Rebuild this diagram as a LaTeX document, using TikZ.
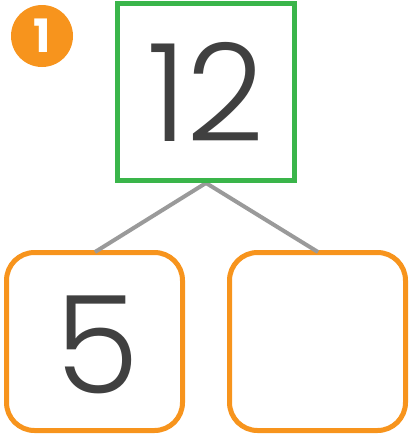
\documentclass[tikz,border=0pt]{standalone}
\usepackage{fontspec}
\setmainfont{Poppins}
\newfontfamily\digfont{Poppins Light}
\definecolor{bgreen}{HTML}{3AB54A}
\definecolor{borange}{HTML}{F7941D}
\definecolor{lgray}{HTML}{9A9A9A}
\definecolor{dgray}{HTML}{404040}
\tikzset{
  wholebox/.style={draw=bgreen, line width=5pt, minimum width=177pt, minimum height=177pt, inner sep=0pt},
  partbox/.style={draw=borange, line width=5pt, rounded corners=28pt, minimum width=176pt, minimum height=178pt, inner sep=0pt},
  digit/.style={text=dgray, inner sep=0pt, font=\digfont\fontsize{136}{136}\selectfont},
  link/.style={draw=lgray, line width=4pt},
  badge/.style={circle, fill=borange, minimum size=62pt, inner sep=0pt, text=white, font=\fontsize{46}{46}\selectfont\bfseries}
}
\begin{document}
\begin{tikzpicture}[x=1pt,y=-1pt]
\useasboundingbox (0,0) rectangle (409,437);
\node[wholebox] (whole) at (206,92) {};
\node[partbox] (left) at (94.5,341.5) {};
\node[partbox] (right) at (317.5,341.5) {};
\coordinate (ltop) at (95,252);
\coordinate (rtop) at (318,252);
\draw[link] (whole.south) -- (ltop);
\draw[link] (whole.south) -- (rtop);
\node[wholebox] (wholetop) at (206,92) {};
\node[digit] (t12) at (206,92) {12};
\node[digit] (t5) at (97,345) {5};
\node[badge] (b1) at (42,36) {1};
\end{tikzpicture}
\end{document}
